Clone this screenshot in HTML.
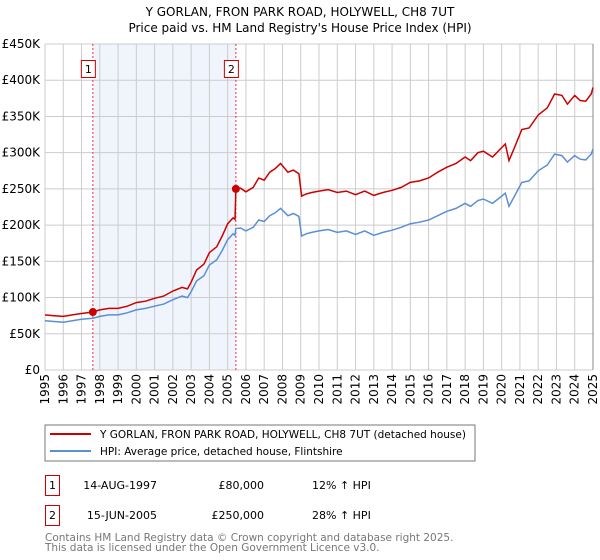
<!DOCTYPE html>
<html><head><meta charset="utf-8"><style>
body{margin:0;background:#fff;}
svg{display:block;font-family:"DejaVu Sans","Liberation Sans",sans-serif;}
</style></head><body>
<svg id="chart" width="600" height="560" xmlns="http://www.w3.org/2000/svg">
<text x="300" y="16" text-anchor="middle" font-size="12">Y GORLAN, FRON PARK ROAD, HOLYWELL, CH8 7UT</text>
<text x="300" y="32" text-anchor="middle" font-size="12">Price paid vs. HM Land Registry's House Price Index (HPI)</text>
<g id="grid"></g><g id="axes"></g><g id="series"></g>
<g>
<rect x="45" y="425" width="430" height="36" fill="#fff" stroke="#777"/>
<line x1="50" y1="434" x2="91" y2="434" stroke="#cc0000" stroke-width="2"/>
<text x="100" y="438" font-size="10.5">Y GORLAN, FRON PARK ROAD, HOLYWELL, CH8 7UT (detached house)</text>
<line x1="50" y1="451" x2="91" y2="451" stroke="#5b8fd4" stroke-width="2"/>
<text x="100" y="455" font-size="10.5">HPI: Average price, detached house, Flintshire</text>
</g>
<g font-size="11">
<rect x="45.5" y="475.5" width="14" height="20" fill="#fff" stroke="#cc0000"/>
<text x="52.5" y="489" text-anchor="middle">1</text>
<text x="157" y="489" text-anchor="end">14-AUG-1997</text>
<text x="264" y="489" text-anchor="end">£80,000</text>
<text x="312" y="489">12% ↑ HPI</text>
<rect x="45.5" y="505.5" width="14" height="20" fill="#fff" stroke="#cc0000"/>
<text x="52.5" y="519" text-anchor="middle">2</text>
<text x="157" y="519" text-anchor="end">15-JUN-2005</text>
<text x="264" y="519" text-anchor="end">£250,000</text>
<text x="312" y="519">28% ↑ HPI</text>
</g>
<text x="45" y="541" font-size="10.5" fill="#777">Contains HM Land Registry data © Crown copyright and database right 2025.</text>
<text x="45" y="551" font-size="10.5" fill="#777">This data is licensed under the Open Government Licence v3.0.</text>
</svg>
<script>
const years=[1995,1995.5,1996,1996.5,1997,1997.62,1998,1998.5,1999,1999.5,2000,2000.5,2001,2001.5,2002,2002.5,2002.8,2003,2003.3,2003.7,2004,2004.4,2004.7,2005,2005.3,2005.4,2005.45,2005.7,2006,2006.4,2006.7,2007,2007.3,2007.6,2007.9,2008.3,2008.6,2008.9,2009.05,2009.3,2009.6,2010,2010.5,2011,2011.5,2012,2012.5,2013,2013.5,2014,2014.5,2015,2015.5,2016,2016.5,2017,2017.5,2018,2018.3,2018.7,2019,2019.5,2020,2020.2,2020.4,2020.7,2021.1,2021.5,2022,2022.5,2022.9,2023.3,2023.6,2024,2024.3,2024.6,2024.9,2025];
const hpiValues=[68,67,66,68,70,71.4,74,76,76,79,83,85,88,91,97,102,100,108,123,130,145,152,165,180,188,186,195.3,196,192,197,207,205,213,217,223,213,216,212,185,188,190,192,194,190,192,187,192,186,190,193,197,202,204,207,213,219,223,230,226,234,236,230,240,244,226,240,259,261,275,283,298,296,287,296,291,290,298,305];
const propertyValues=[76,75,74,76,78,80,83,85,85,88,93,95,99,102,109,114,112,121,138,146,162,170,185,202,210,208,250,251,246,252,265,262,273,278,285,273,276,271,240,243,245,247,249,245,247,242,247,241,245,248,252,259,261,265,273,280,285,294,289,300,302,294,307,312,289,307,332,334,352,362,381,379,367,379,372,371,381,390];
const yTicks=[0,50,100,150,200,250,300,350,400,450];
const yTickLabels=["£0","£50K","£100K","£150K","£200K","£250K","£300K","£350K","£400K","£450K"];
const xTicks=[1995,1996,1997,1998,1999,2000,2001,2002,2003,2004,2005,2006,2007,2008,2009,2010,2011,2012,2013,2014,2015,2016,2017,2018,2019,2020,2021,2022,2023,2024,2025];
const saleYears=[1997.62,2005.45];
const salePrices=[80,250];
const saleLabels=["1","2"];

const X0=45,X1=593,Y0=370,Y1=44;
const xs=y=>X0+(y-1995)/30*(X1-X0);
const ys=v=>Y0-v/450*(Y0-Y1);
const NS="http://www.w3.org/2000/svg";
function mk(tag,attrs,parent){const e=document.createElementNS(NS,tag);for(const k in attrs)e.setAttribute(k,attrs[k]);parent.appendChild(e);return e;}
const grid=document.getElementById('grid'),axes=document.getElementById('axes'),series=document.getElementById('series');

const shade=mk('rect',{x:xs(saleYears[0]),y:Y1,width:xs(saleYears[1])-xs(saleYears[0]),height:Y0-Y1,fill:'#f0f4fd'},grid);



yTicks.forEach((t,i)=>{
  const l=mk('line',{x1:X0,x2:X1,y1:ys(t),y2:ys(t),stroke:'#ccc','stroke-width':1},grid);
  
  
  const tx=mk('text',{x:40,y:ys(t)+4,'text-anchor':'end','font-size':12},axes);
  tx.textContent=yTickLabels[i];
  
  
});
xTicks.forEach(t=>{
  const l=mk('line',{x1:xs(t),x2:xs(t),y1:Y1,y2:Y0,stroke:'#ccc','stroke-width':1},grid);
  
  
  const tx=mk('text',{x:0,y:0,'text-anchor':'end','font-size':12,transform:`translate(${xs(t)+4},${Y0+4}) rotate(-90)`},axes);
  tx.textContent=t;
  
  
});
const ax=mk('line',{x1:X1,x2:X1,y1:Y1,y2:Y0,stroke:'#888','stroke-width':1},axes);



saleYears.forEach((s,i)=>{
  const l=mk('line',{x1:xs(s),x2:xs(s),y1:Y1,y2:Y0,stroke:'#e33','stroke-width':1,'stroke-dasharray':'2,2'},series);
  
  
  const r=mk('rect',{x:xs(s)-11.5,y:60.5,width:14,height:17,fill:'#fff',stroke:'#cc0000'},series);
  
  
  const t=mk('text',{x:xs(s)-4.5,y:73,'text-anchor':'middle','font-size':11},series);
  t.textContent=saleLabels[i];
  
  
});

function path(vals){return vals.map((v,i)=>(i?'L':'M')+xs(years[i]).toFixed(1)+','+ys(v).toFixed(1)).join('');}
const hp=mk('path',{d:path(hpiValues),fill:'none',stroke:'#5b8fd4','stroke-width':1.5},series);


const pp=mk('path',{d:path(propertyValues),fill:'none',stroke:'#cc0000','stroke-width':1.5},series);


saleYears.forEach((s,i)=>{
  const c=mk('circle',{cx:xs(s),cy:ys(salePrices[i]),r:4,fill:'#cc0000'},series);
  
  
});
</script>
</body></html>
